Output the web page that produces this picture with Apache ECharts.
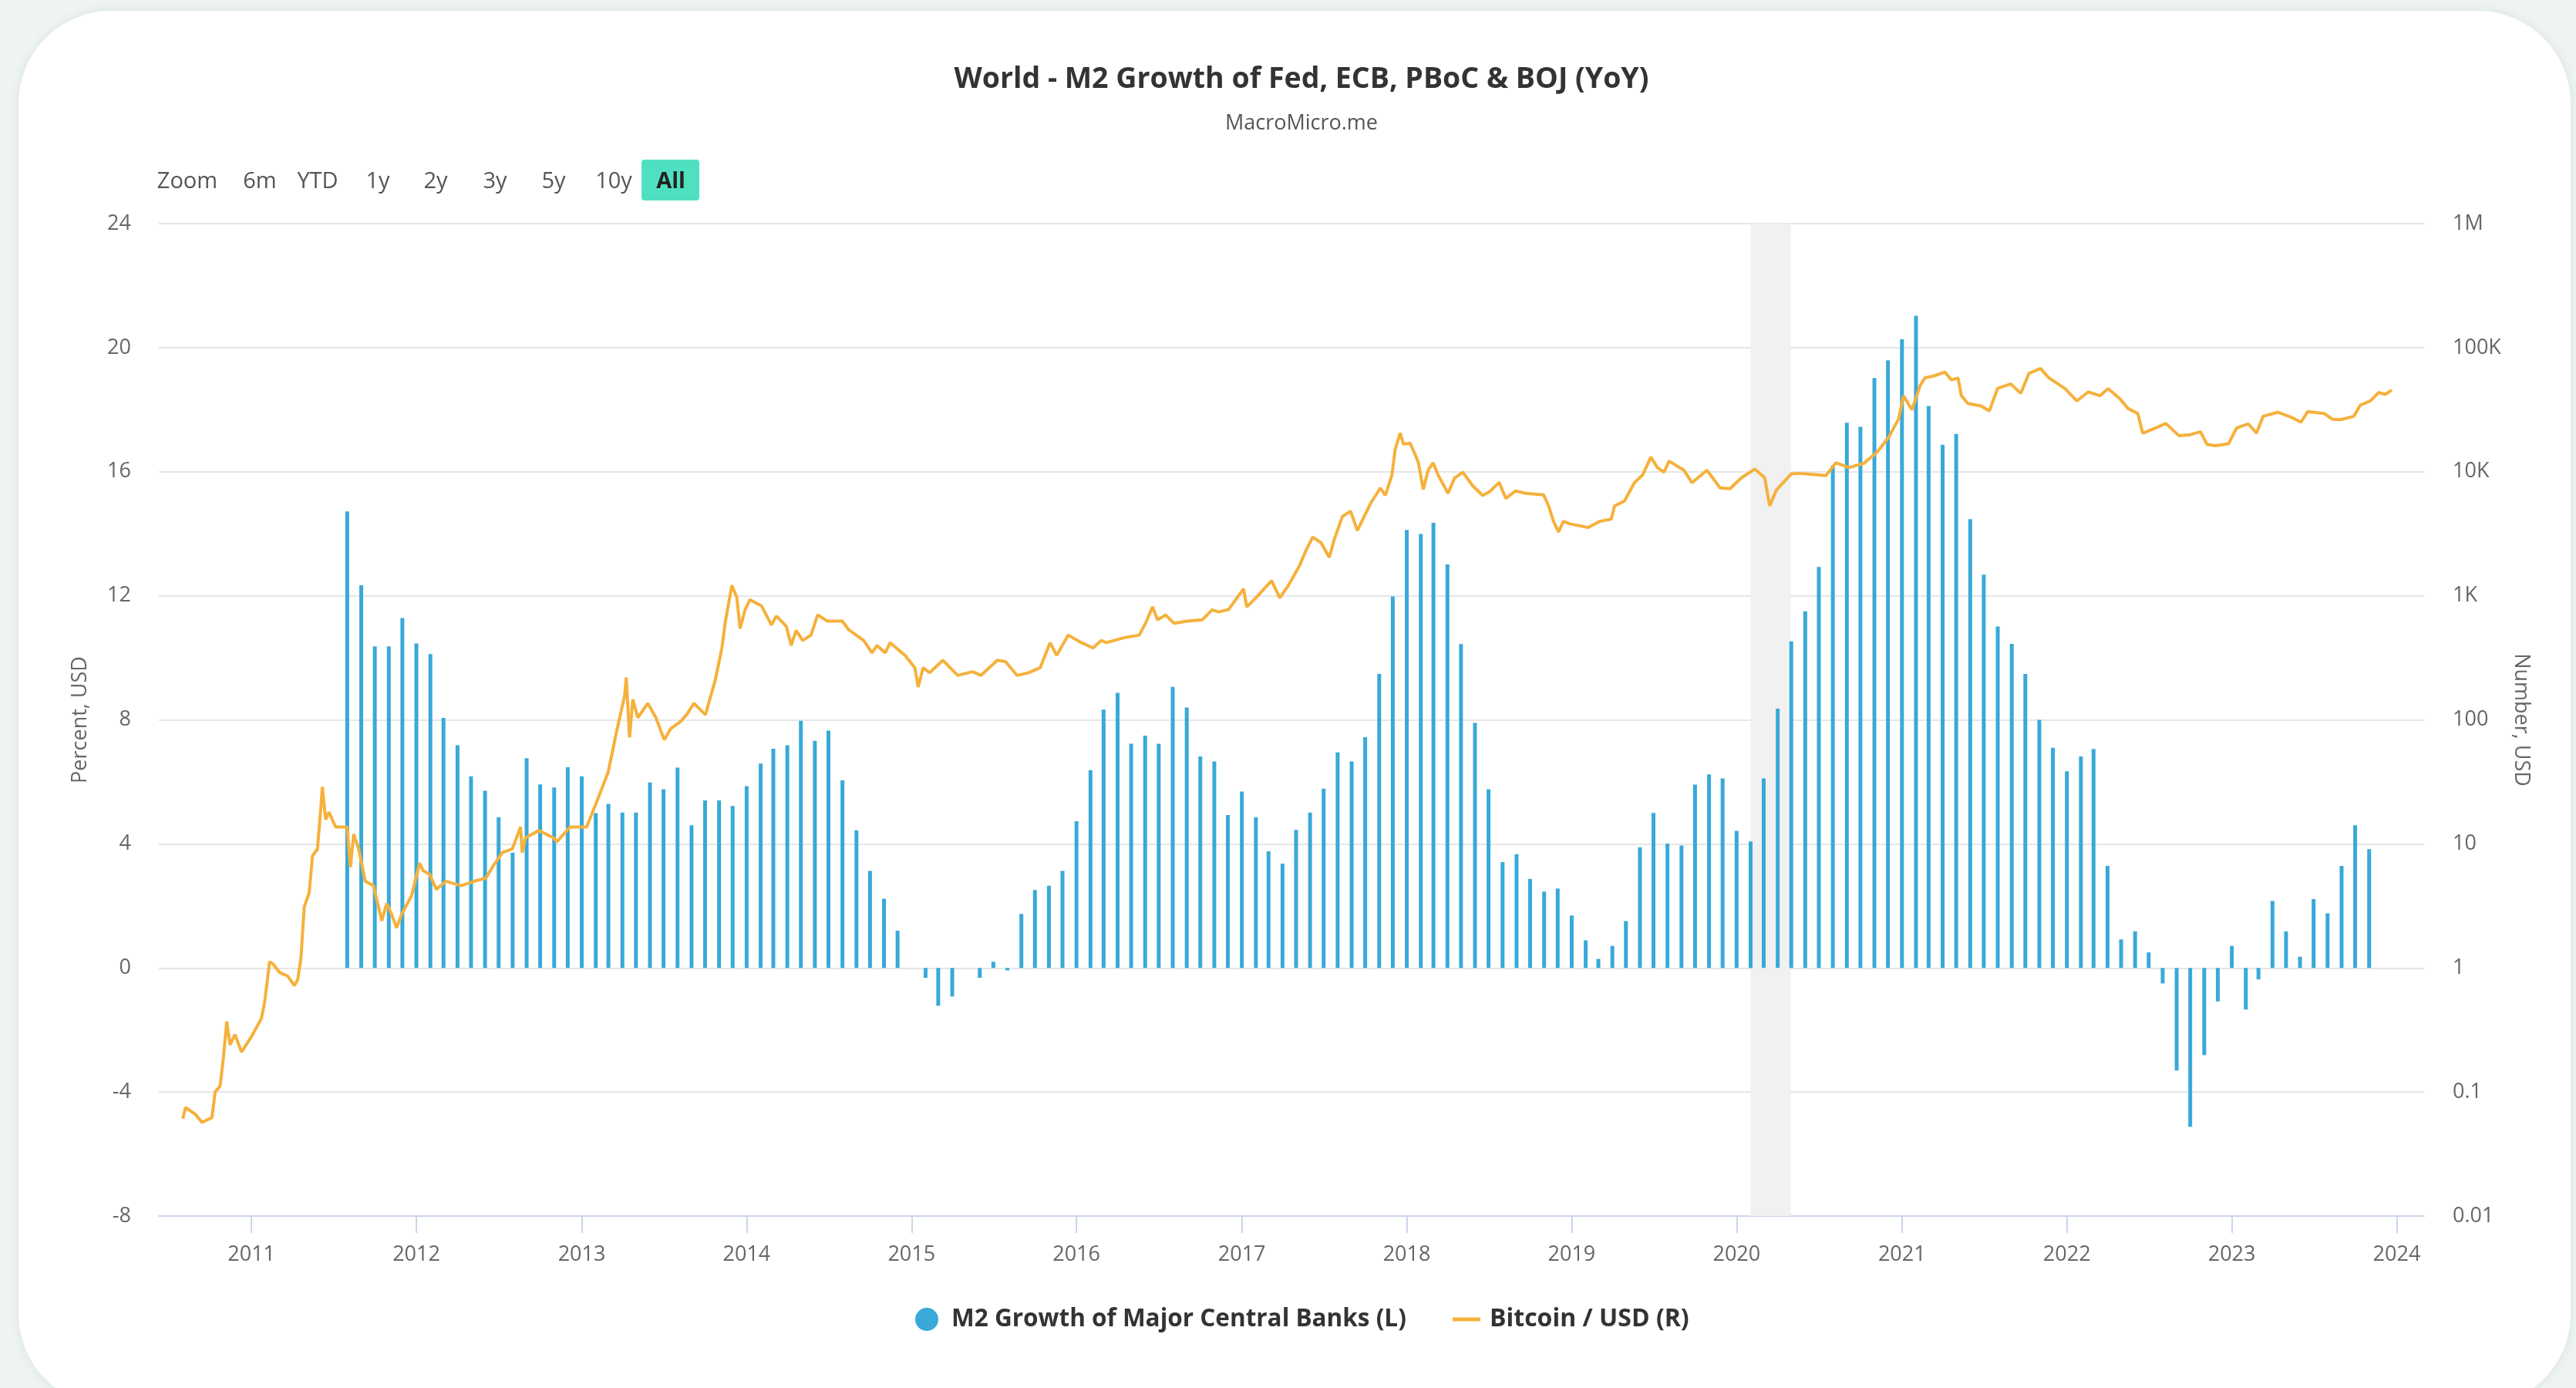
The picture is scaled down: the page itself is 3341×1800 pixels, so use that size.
<!DOCTYPE html>
<html>
<head>
<meta charset="utf-8">
<title>World - M2 Growth of Fed, ECB, PBoC &amp; BOJ (YoY)</title>
<script src="https://cdn.jsdelivr.net/npm/echarts@6/dist/echarts.min.js"></script>
<style>
  html, body { margin: 0; padding: 0; width: 3341px; height: 1800px; overflow: hidden; background: #eef3f3; }
  #card { position: absolute; left: 24px; top: 14px; width: 3310px; height: 1810px; background: #fff; border-radius: 120px; box-shadow: 0 0 14px rgba(0, 0, 0, 0.08); }
  #chart { position: absolute; left: 0; top: 0; width: 3341px; height: 1800px; }
</style>
</head>
<body>
<div id="card"></div>
<div id="chart"></div>
<script>
// M2 growth of Fed + ECB + PBoC + BOJ, YoY %, one value a month starting Aug 2011
const m2FirstYear = 2011;
const m2FirstMonth = 7; // Aug (0 = Jan)
const m2Growth = [
  14.72, 12.34, 10.37, 10.37, 11.28,
  10.46, 10.12, 8.06, 7.18, 6.18, 5.71, 4.86, 3.72, 6.76, 5.92, 5.82, 6.47,
  6.18, 4.99, 5.29, 5.01, 5.01, 5.98, 5.76, 6.46, 4.60, 5.40, 5.40, 5.22,
  5.86, 6.59, 7.07, 7.18, 7.97, 7.32, 7.65, 6.05, 4.44, 3.13, 2.23, 1.20,
  0.00, -0.32, -1.22, -0.92, 0.00, -0.32, 0.20, -0.08, 1.74, 2.51, 2.65, 3.13,
  4.73, 6.38, 8.33, 8.87, 7.23, 7.49, 7.23, 9.06, 8.40, 6.82, 6.66, 4.93,
  5.69, 4.86, 3.76, 3.36, 4.45, 5.01, 5.78, 6.95, 6.66, 7.44, 9.48, 11.98,
  14.12, 13.99, 14.35, 13.01, 10.44, 7.90, 5.76, 3.41, 3.67, 2.87, 2.46, 2.56,
  1.69, 0.89, 0.29, 0.71, 1.51, 3.89, 5.00, 4.01, 3.95, 5.91, 6.24, 6.11,
  4.42, 4.08, 6.11, 8.36, 10.53, 11.50, 12.93, 16.20, 17.58, 17.45, 19.02, 19.59,
  20.27, 21.03, 18.12, 16.87, 17.22, 14.47, 12.68, 11.01, 10.45, 9.48, 8.00, 7.10,
  6.34, 6.82, 7.06, 3.29, 0.92, 1.18, 0.50, -0.50, -3.31, -5.12, -2.81, -1.08,
  0.71, -1.34, -0.37, 2.16, 1.18, 0.36, 2.22, 1.76, 3.29, 4.60, 3.83
];

// Bitcoin / USD (decimal year, price)
const btcYear = [
  2010.584, 2010.60, 2010.66, 2010.70, 2010.76, 2010.78, 2010.81, 2010.83, 2010.85, 2010.87, 2010.90, 2010.94,
  2011.00, 2011.06, 2011.08, 2011.11, 2011.13, 2011.17, 2011.22, 2011.26, 2011.28, 2011.30, 2011.32, 2011.35,
  2011.37, 2011.40, 2011.42, 2011.43, 2011.45, 2011.47, 2011.51, 2011.58, 2011.60, 2011.62, 2011.65, 2011.69,
  2011.74, 2011.79, 2011.82, 2011.85, 2011.88, 2011.91, 2011.97,
  2012.02, 2012.04, 2012.08, 2012.12, 2012.18, 2012.27, 2012.35, 2012.42, 2012.46, 2012.52, 2012.58, 2012.63,
  2012.64, 2012.66, 2012.74, 2012.83, 2012.85, 2012.93,
  2013.03, 2013.10, 2013.16, 2013.21, 2013.26, 2013.27, 2013.29, 2013.31, 2013.34, 2013.40, 2013.45, 2013.50,
  2013.54, 2013.60, 2013.64, 2013.68, 2013.75, 2013.81, 2013.85, 2013.87, 2013.91, 2013.94, 2013.96, 2013.99,
  2014.02, 2014.09, 2014.15, 2014.18, 2014.24, 2014.27, 2014.30, 2014.34, 2014.39, 2014.43, 2014.49, 2014.58,
  2014.62, 2014.71, 2014.76, 2014.79, 2014.84, 2014.87, 2014.96,
  2015.02, 2015.04, 2015.07, 2015.11, 2015.19, 2015.28, 2015.37, 2015.42, 2015.52, 2015.57, 2015.64, 2015.71,
  2015.78, 2015.84, 2015.88, 2015.95,
  2016.03, 2016.10, 2016.15, 2016.18, 2016.29, 2016.38, 2016.42, 2016.46, 2016.49, 2016.54, 2016.59, 2016.67,
  2016.76, 2016.82, 2016.86, 2016.92,
  2017.01, 2017.03, 2017.09, 2017.18, 2017.23, 2017.28, 2017.35, 2017.39, 2017.43, 2017.48, 2017.53, 2017.56,
  2017.61, 2017.66, 2017.70, 2017.78, 2017.84, 2017.87, 2017.91, 2017.93, 2017.96, 2017.98,
  2018.02, 2018.05, 2018.07, 2018.10, 2018.13, 2018.16, 2018.19, 2018.25, 2018.29, 2018.34, 2018.40, 2018.46,
  2018.50, 2018.56, 2018.60, 2018.66, 2018.72, 2018.83, 2018.86, 2018.89, 2018.92, 2018.95, 2018.99,
  2019.10, 2019.17, 2019.24, 2019.26, 2019.32, 2019.38, 2019.43, 2019.48, 2019.52, 2019.56, 2019.59, 2019.68,
  2019.73, 2019.82, 2019.90, 2019.96,
  2020.03, 2020.11, 2020.17, 2020.20, 2020.24, 2020.33, 2020.38, 2020.46, 2020.54, 2020.60, 2020.68, 2020.77,
  2020.85, 2020.92, 2020.98,
  2021.01, 2021.06, 2021.11, 2021.14, 2021.19, 2021.26, 2021.30, 2021.34, 2021.36, 2021.40, 2021.48, 2021.53,
  2021.58, 2021.66, 2021.72, 2021.77, 2021.84, 2021.89, 2021.99,
  2022.06, 2022.13, 2022.20, 2022.25, 2022.32, 2022.37, 2022.43, 2022.46, 2022.55, 2022.60, 2022.68, 2022.75,
  2022.81, 2022.85, 2022.90, 2022.98,
  2023.03, 2023.10, 2023.15, 2023.19, 2023.28, 2023.36, 2023.42, 2023.46, 2023.56, 2023.61, 2023.66, 2023.74,
  2023.78, 2023.84, 2023.89, 2023.93, 2023.97
];
const btcPrice = [
  0.061, 0.075, 0.066, 0.057, 0.062, 0.10, 0.112, 0.19, 0.37, 0.24, 0.29, 0.21,
  0.28, 0.39, 0.53, 1.12, 1.08, 0.92, 0.86, 0.72, 0.80, 1.2, 3.1, 4.05,
  8, 9.1, 19, 28.8, 15.7, 18, 13.7, 13.7, 6.5, 12, 9.1, 5,
  4.6, 2.4, 3.3, 2.7, 2.1, 2.7, 3.8,
  7.0, 6.1, 5.7, 4.3, 5.0, 4.6, 5.0, 5.3, 6.5, 8.5, 9.1, 13.7,
  8.5, 11.2, 12.8, 11.2, 10.4, 13.7,
  13.7, 23.5, 37.8, 79, 156, 219, 72, 146, 104, 136, 104, 69,
  85, 97, 112, 136, 110, 210, 380, 611, 1210, 976, 543, 770,
  930, 830, 582, 687, 569, 398, 525, 436, 482, 700, 625, 625,
  530, 436, 347, 398, 347, 419, 331,
  263, 184, 263, 240, 302, 228, 244, 228, 302, 295, 228, 240,
  263, 419, 331, 482,
  419, 380, 436, 419, 460, 482, 611, 813, 640, 700, 600, 625,
  640, 770, 740, 776,
  1138, 813, 980, 1320, 963, 1200, 1750, 2340, 2970, 2680, 2040, 2840,
  4370, 4800, 3350, 5540, 7400, 6440, 9400, 15200, 20500, 16700,
  17000, 13800, 11900, 7200, 10300, 11800, 9400, 6700, 8900, 9900, 7700, 6440,
  6860, 8200, 6100, 7000, 6700, 6500, 5300, 3980, 3270, 3980, 3800,
  3550, 3980, 4150, 5300, 5800, 8150, 9400, 13100, 10800, 9900, 12200, 10300,
  8150, 10300, 7400, 7300,
  8950, 10500, 8950, 5300, 7100, 9600, 9700, 9500, 9300, 11800, 10800, 11700,
  14400, 19000, 26700,
  41000, 31500, 49500, 57200, 59000, 63500, 55000, 57000, 41000, 35500, 33900, 30900,
  47000, 51000, 42800, 62000, 68000, 57200, 46700,
  37200, 44000, 41000, 46700, 38900, 32400, 29500, 20400, 22900, 24500, 19500, 19900,
  21000, 16600, 16200, 16800,
  22600, 24300, 20500, 28000, 30200, 27500, 25100, 30500, 29500, 26500, 26300, 28000,
  34500, 37200, 43500, 42000, 45500
];

const rightTickLabels = ['0.01', '0.1', '1', '10', '100', '1K', '10K', '100K', '1M'];
const rangeButtons = ['Zoom', '6m', 'YTD', '1y', '2y', '3y', '5y', '10y', 'All'];
const rangeButtonX = [243, 337, 412, 490, 565, 642, 718, 796, 870];
const shadedBand = ['2020-02-01', '2020-04-30'];
const xStart = 2010.45;
const xEnd = 2024.154;

const m2Name = 'M2 Growth of Major Central Banks (L)';
const btcName = 'Bitcoin / USD (R)';
const FONT = '"Open Sans", "Noto Sans", sans-serif';

function yearToTime(y) {
  const yr = Math.floor(y);
  const a = new Date(yr, 0, 1).getTime();
  const b = new Date(yr + 1, 0, 1).getTime();
  return a + (y - yr) * (b - a);
}

const m2Data = m2Growth.map(function (v, i) {
  return [new Date(m2FirstYear, m2FirstMonth + i, 1).getTime(), v];
});
const btcData = btcYear.map(function (y, i) {
  return [yearToTime(y), btcPrice[i]];
});

const chart = echarts.init(document.getElementById('chart'), null, { renderer: 'canvas' });

const graphics = rangeButtons.map(function (t, i) {
  return {
    type: 'text',
    x: rangeButtonX[i],
    y: 236,
    z: 10,
    style: {
      text: t,
      fill: t === 'All' ? '#222' : '#555',
      font: (t === 'All' ? 'bold ' : '') + '29px ' + FONT,
      align: 'center',
      verticalAlign: 'middle'
    }
  };
});
graphics.unshift({
  type: 'rect',
  shape: { x: 832, y: 207, width: 75, height: 53, r: 4 },
  style: { fill: '#4fe0c1' },
  z: 9
});

const option = {
  backgroundColor: 'transparent',
  animation: false,
  textStyle: { fontFamily: FONT },
  title: [
    {
      text: 'World - M2 Growth of Fed, ECB, PBoC & BOJ (YoY)',
      left: 1688,
      top: 84,
      textAlign: 'center',
      padding: 0,
      textStyle: { fontFamily: FONT, fontWeight: 'bold', fontSize: 37.5, color: '#333' }
    },
    {
      text: 'MacroMicro.me',
      left: 1688,
      top: 147,
      textAlign: 'center',
      padding: 0,
      textStyle: { fontFamily: FONT, fontWeight: 'normal', fontSize: 27, color: '#555' }
    }
  ],
  legend: [
    {
      data: [{ name: m2Name, icon: 'circle' }],
      left: 1187,
      top: 1695,
      padding: 0,
      itemWidth: 30,
      itemHeight: 33,
      selectedMode: false,
      textStyle: { fontFamily: FONT, fontWeight: 'bold', fontSize: 31.5, color: '#333', padding: [0, 0, 0, 12] }
    },
    {
      data: [{ name: btcName, icon: 'rect' }],
      left: 1884,
      top: 1695,
      padding: 0,
      itemWidth: 36,
      itemHeight: 5,
      selectedMode: false,
      textStyle: { fontFamily: FONT, fontWeight: 'bold', fontSize: 32, color: '#333', padding: [0, 0, 0, 7] }
    }
  ],
  grid: {
    left: 206,
    right: 197,
    top: 290,
    bottom: 223,
    containLabel: false,
    outerBoundsMode: 'none'
  },
  xAxis: {
    type: 'time',
    min: yearToTime(xStart),
    max: yearToTime(xEnd),
    minInterval: 365 * 24 * 3600 * 1000,
    maxInterval: 366 * 24 * 3600 * 1000,
    axisLine: { onZero: false, lineStyle: { color: '#ccd6eb', width: 2 } },
    axisTick: { show: true, length: 22, lineStyle: { color: '#ccd6eb', width: 2 } },
    axisLabel: { formatter: '{yyyy}', color: '#666', fontSize: 27, margin: 37, fontFamily: FONT },
    splitLine: { show: false }
  },
  yAxis: [
    {
      type: 'value',
      min: -8,
      max: 24,
      interval: 4,
      name: 'Percent, USD',
      nameLocation: 'middle',
      nameRotate: 90,
      nameGap: 88,
      nameTextStyle: { color: '#666', fontSize: 27, fontFamily: FONT },
      axisLine: { show: false },
      axisTick: { show: false },
      axisLabel: { color: '#666', fontSize: 27, margin: 36, fontFamily: FONT },
      splitLine: { lineStyle: { color: '#e6e6e6', width: 2 } }
    },
    {
      type: 'log',
      logBase: 10,
      min: 0.01,
      max: 1000000,
      interval: 1,
      splitNumber: 8,
      position: 'right',
      name: 'Number, USD',
      nameLocation: 'middle',
      nameRotate: -90,
      nameGap: 112,
      nameTextStyle: { color: '#666', fontSize: 27, fontFamily: FONT },
      axisLine: { show: false },
      axisTick: { show: false },
      axisLabel: {
        color: '#666',
        fontSize: 27,
        margin: 37,
        fontFamily: FONT,
        formatter: function (v) {
          const e = Math.round(Math.log10(v));
          return rightTickLabels[e + 2] || '';
        }
      },
      splitLine: { show: false }
    }
  ],
  graphic: graphics,
  series: [
    {
      name: m2Name,
      type: 'bar',
      yAxisIndex: 0,
      barWidth: 5,
      z: 2,
      itemStyle: { color: '#38a9d8' },
      data: m2Data,
      markArea: {
        silent: true,
        z: 1,
        itemStyle: { color: '#f1f1f1' },
        data: [[{ xAxis: new Date(shadedBand[0]).getTime() }, { xAxis: new Date(shadedBand[1]).getTime() }]]
      }
    },
    {
      name: btcName,
      type: 'line',
      yAxisIndex: 1,
      showSymbol: false,
      symbol: 'none',
      z: 3,
      lineStyle: { color: '#f5b13c', width: 4 },
      itemStyle: { color: '#f5b13c' },
      data: btcData
    }
  ]
};

chart.setOption(option);
</script>
</body>
</html>
